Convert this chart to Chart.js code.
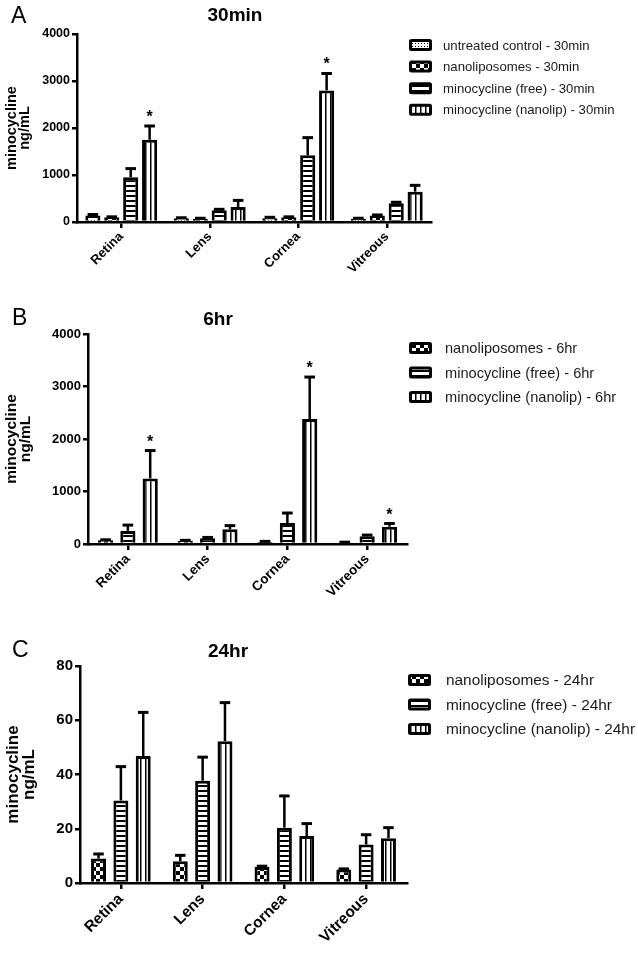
<!DOCTYPE html>
<html>
<head>
<meta charset="utf-8">
<script src="https://cdn.jsdelivr.net/npm/chart.js@4.4.1/dist/chart.umd.min.js"></script>
<style>
  body { margin: 0; background: #fff; width: 638px; height: 955px; position: relative; overflow: hidden; }
  canvas { position: absolute; left: 0; }
</style>
</head>
<body>
<canvas id="chartA" width="638" height="300" style="top:0"></canvas>
<canvas id="chartB" width="638" height="315" style="top:300px"></canvas>
<canvas id="chartC" width="638" height="340" style="top:615px"></canvas>
<script>
const categories = ['Retina', 'Lens', 'Cornea', 'Vitreous'];

// A - 30min, ng/mL
const untreated30 = [140, 80, 80, 70];
const untreated30Err = [20, 10, 20, 10];
const nanolipo30 = [100, 70, 100, 140];
const nanolipo30Err = [10, 10, 10, 10];
const free30 = [950, 250, 1420, 400];
const free30Err = [186, 20, 375, 20];
const nanolip30 = [1750, 320, 2800, 645];
const nanolip30Err = [293, 140, 360, 135];
const nanolip30Stars = [true, false, true, false];

// B - 6hr
const nanolipo6 = [70, 60, 40, 30];
const nanolipo6Err = [10, 10, 10, 5];
const free6 = [250, 110, 400, 150];
const free6Err = [110, 15, 190, 20];
const nanolip6 = [1250, 280, 2380, 330];
const nanolip6Err = [530, 70, 800, 60];
const nanolip6Stars = [true, false, true, true];

// C - 24hr
const nanolipo24 = [9, 8, 5.9, 5];
const nanolipo24Err = [1.7, 2.2, 0.3, 0.2];
const free24 = [30.4, 37.7, 20.4, 14.2];
const free24Err = [12.5, 8.7, 11.7, 3.6];
const nanolip24 = [46.8, 52.3, 17.3, 16.5];
const nanolip24Err = [16.1, 14.2, 4.6, 3.9];

Chart.defaults.font.family = 'Arial, "Liberation Sans", Helvetica, sans-serif';
Chart.defaults.color = '#000';

function makePattern(kind) {
  const c = document.createElement('canvas');
  const g = c.getContext('2d');
  if (kind == 'dots') {
    c.width = 3; c.height = 3;
    g.fillStyle = '#fff'; g.fillRect(0, 0, 3, 3);
    g.fillStyle = '#000'; g.fillRect(1, 1, 1, 1);
  } else if (kind == 'checks') {
    c.width = 8; c.height = 8;
    g.fillStyle = '#fff'; g.fillRect(0, 0, 8, 8);
    g.fillStyle = '#000'; g.fillRect(0, 0, 4, 4); g.fillRect(4, 4, 4, 4);
  } else if (kind == 'hlines') {
    c.width = 5; c.height = 5;
    g.fillStyle = '#fff'; g.fillRect(0, 0, 5, 5);
    g.fillStyle = '#000'; g.fillRect(0, 0, 5, 2);
  } else {
    c.width = 5; c.height = 5;
    g.fillStyle = '#fff'; g.fillRect(0, 0, 5, 5);
    g.fillStyle = '#000'; g.fillRect(0, 0, 1.5, 5);
  }
  return g.createPattern(c, 'repeat');
}

const errorBars = {
  id: 'errorBars',
  afterDatasetsDraw(chart) {
    const ctx = chart.ctx, y = chart.scales.y;
    chart.data.datasets.forEach((ds, i) => {
      chart.getDatasetMeta(i).data.forEach((bar, j) => {
        const top = y.getPixelForValue(ds.data[j] + ds.errors[j]);
        const half = bar.width * 0.35;
        ctx.save();
        ctx.strokeStyle = '#000';
        ctx.lineWidth = 2.5;
        ctx.beginPath(); ctx.moveTo(bar.x, bar.y); ctx.lineTo(bar.x, top); ctx.stroke();
        ctx.lineWidth = 3;
        ctx.beginPath(); ctx.moveTo(bar.x - half, top); ctx.lineTo(bar.x + half, top); ctx.stroke();
        if (ds.stars && ds.stars[j]) {
          ctx.fillStyle = '#000';
          ctx.font = 'bold 16px Arial, "Liberation Sans", sans-serif';
          ctx.textAlign = 'center';
          ctx.textBaseline = 'alphabetic';
          ctx.fillText('*', bar.x, top - 4);
        }
        ctx.restore();
      });
    });
  }
};

const decor = {
  id: 'decor',
  afterDraw(chart, args, o) {
    const ctx = chart.ctx;
    ctx.save();
    ctx.fillStyle = '#000';
    ctx.textBaseline = 'middle';
    ctx.textAlign = 'left';
    ctx.font = '23px Arial, "Liberation Sans", sans-serif';
    ctx.fillText(o.letter, o.letterX, o.letterY);
    ctx.textAlign = 'center';
    ctx.font = 'bold 19px Arial, "Liberation Sans", sans-serif';
    ctx.fillText(o.title, o.titleX, o.titleY);
    ctx.textAlign = 'left';
    ctx.font = o.legendSize + 'px Arial, "Liberation Sans", sans-serif';
    chart.data.datasets.forEach((ds, i) => {
      const cy = o.legendY + i * o.legendGap;
      const x = o.legendX;
      ctx.fillStyle = '#000';
      ctx.beginPath();
      ctx.roundRect(x, cy - 6, 23, 12, 2.5);
      ctx.fill();
      ctx.fillStyle = ds.backgroundColor;
      ctx.fillRect(x + 3, cy - 3, 17, 6);
      ctx.fillStyle = '#1a1a1a';
      ctx.fillText(ds.label, x + o.textGap, cy + 1);
    });
    ctx.restore();
  }
};

function panel(id, datasets, p) {
  return new Chart(document.getElementById(id), {
    type: 'bar',
    data: { labels: categories, datasets: datasets },
    plugins: [errorBars, decor],
    options: {
      responsive: false,
      animation: false,
      events: [],
      layout: { padding: { top: p.top, right: p.right, left: 0, bottom: 0 } },
      datasets: { bar: { categoryPercentage: p.catPct, barPercentage: p.barPct, borderColor: '#000', borderWidth: 3, borderSkipped: 'start' } },
      plugins: {
        legend: { display: false },
        tooltip: { enabled: false },
        decor: p.decor
      },
      scales: {
        x: {
          offset: true,
          afterFit: s => { s.height = p.xHeight; },
          grid: { offset: false, drawOnChartArea: false, color: '#000', lineWidth: 2.5, tickLength: 6 },
          border: { color: '#000', width: 2.5 },
          ticks: { color: '#000', font: { size: p.xFont, weight: 'bold' }, minRotation: 45, maxRotation: 45, padding: 1 }
        },
        y: {
          min: 0,
          max: p.max,
          afterFit: s => { s.width = p.left; },
          grid: { drawOnChartArea: false, color: '#000', lineWidth: 2.5, tickLength: 5 },
          border: { color: '#000', width: 2.5 },
          ticks: { stepSize: p.step, color: '#000', font: { size: p.yFont, weight: 'bold' }, padding: 2, callback: v => String(v) },
          title: {
            display: true,
            text: ['minocycline', 'ng/mL'],
            color: '#000',
            font: { size: p.titleFont, weight: 'bold', lineHeight: 0.9 },
            padding: { top: p.titlePad, bottom: 0 }
          }
        }
      }
    }
  });
}

const dots = makePattern('dots');
const checks = makePattern('checks');
const hlines = makePattern('hlines');
const vlines = makePattern('vlines');

panel('chartA', [
  { label: 'untreated control - 30min', data: untreated30, errors: untreated30Err, backgroundColor: dots },
  { label: 'nanoliposomes - 30min', data: nanolipo30, errors: nanolipo30Err, backgroundColor: checks },
  { label: 'minocycline (free) - 30min', data: free30, errors: free30Err, backgroundColor: hlines },
  { label: 'minocycline (nanolip) - 30min', data: nanolip30, errors: nanolip30Err, stars: nanolip30Stars, backgroundColor: vlines }
], {
  top: 34, right: 207, left: 77, xHeight: 78, max: 4000, step: 1000,
  catPct: 0.855, barPct: 0.8, xFont: 13, yFont: 12.5, titleFont: 14.5, titlePad: 5,
  decor: { letter: 'A', letterX: 11, letterY: 17, title: '30min', titleX: 235, titleY: 16,
           legendX: 409, legendY: 45, legendGap: 21.6, legendSize: 13.2, textGap: 34 }
});

panel('chartB', [
  { label: 'nanoliposomes - 6hr', data: nanolipo6, errors: nanolipo6Err, backgroundColor: checks },
  { label: 'minocycline (free) - 6hr', data: free6, errors: free6Err, backgroundColor: hlines },
  { label: 'minocycline (nanolip) - 6hr', data: nanolip6, errors: nanolip6Err, stars: nanolip6Stars, backgroundColor: vlines }
], {
  top: 34, right: 231, left: 88, xHeight: 71, max: 4000, step: 1000,
  catPct: 0.84, barPct: 0.68, xFont: 13.5, yFont: 13, titleFont: 15.5, titlePad: 5,
  decor: { letter: 'B', letterX: 12, letterY: 19, title: '6hr', titleX: 218, titleY: 20,
           legendX: 409, legendY: 48, legendGap: 24.5, legendSize: 14.6, textGap: 36 }
});

panel('chartC', [
  { label: 'nanoliposomes - 24hr', data: nanolipo24, errors: nanolipo24Err, backgroundColor: checks },
  { label: 'minocycline (free) - 24hr', data: free24, errors: free24Err, backgroundColor: hlines },
  { label: 'minocycline (nanolip) - 24hr', data: nanolip24, errors: nanolip24Err, backgroundColor: vlines }
], {
  top: 51, right: 231, left: 80, xHeight: 72, max: 80, step: 20,
  catPct: 0.82, barPct: 0.67, xFont: 15.5, yFont: 15, titleFont: 17, titlePad: 6,
  decor: { letter: 'C', letterX: 12, letterY: 36, title: '24hr', titleX: 228, titleY: 37,
           legendX: 408, legendY: 65, legendGap: 24.5, legendSize: 15.4, textGap: 38 }
});
</script>
</body>
</html>
